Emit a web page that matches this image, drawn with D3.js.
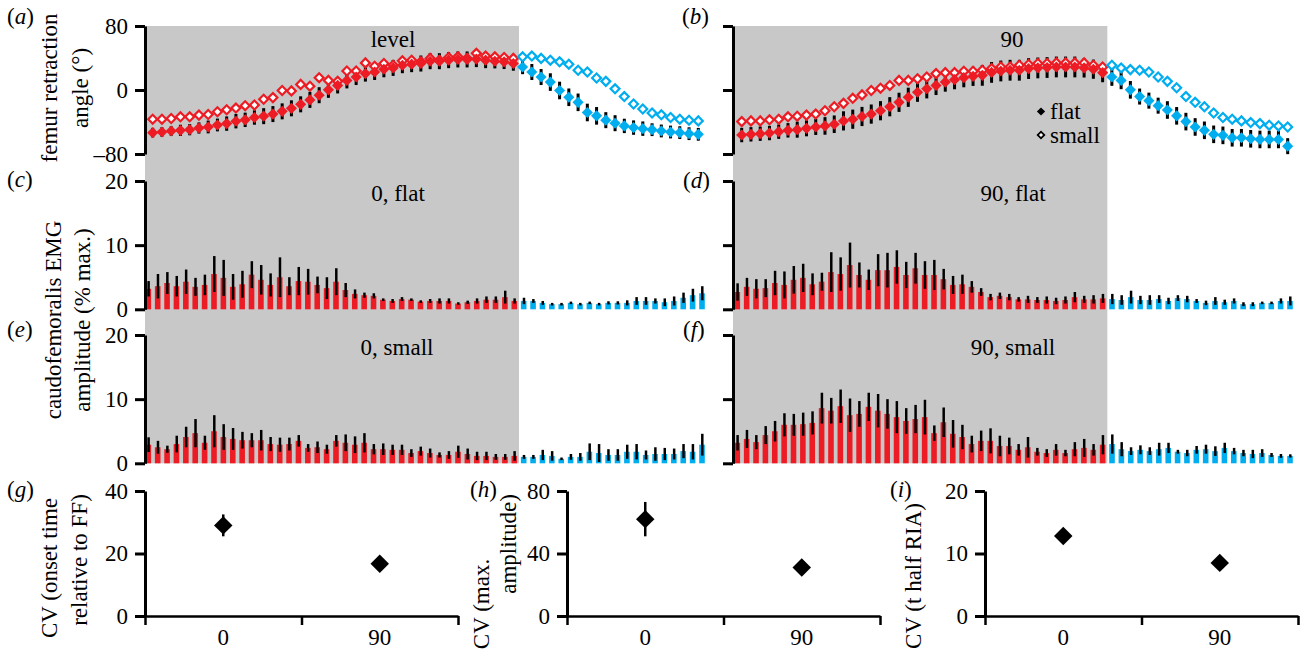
<!DOCTYPE html>
<html>
<head>
<meta charset="utf-8">
<script src="https://cdn.jsdelivr.net/npm/d3@7"></script>
<style>
body { margin: 0; background: #fff; }
svg text { font-family: "Liberation Serif", "Times New Roman", serif; font-size: 23px; fill: #000; }
</style>
</head>
<body>
<svg id="chart" width="1304" height="650"></svg>
<script>
const RED = '#ed1c24', BLUE = '#00aeef', GREY = '#c8c8c8';
const nStance = 40; // first 40 samples stance (red), last 20 swing (blue)

// femur retraction angle, level (a)
const angLevelFlat = [-53.3,-52.5,-51.3,-50.4,-49.6,-47.5,-46.2,-43.7,-42.0,-39.0,-37.3,-34.4,-32.7,-30.1,-26.7,-22.9,-17.9,-12.4,-6.5,0.2,
  5.7,12.0,16.2,20.5,22.5,25.9,27.6,31.0,32.3,33.1,36.0,36.0,37.3,38.2,38.2,38.6,37.3,36.0,35.2,33.1,
  28.8,22.5,16.2,9.9,-0.6,-9.1,-15.4,-28.1,-32.3,-37.7,-41.5,-44.9,-47.0,-48.3,-49.6,-51.2,-52.5,-53.3,-54.6,-55.4];
const angLevelFlatSd = [6,6,6,7,7,7,8,8,9,9,9,9,10,10,10,10,10,10,10,10,
  10,10,10,10,10,10,10,10,10,10,10,10,10,10,10,10,10,9,9,9,
  9,10,10,11,11,11,11,11,11,10,10,9,9,9,8,8,8,8,8,8];
const angLevelSmall = [-36.5,-36.5,-35.6,-33.5,-33.5,-31.4,-30.6,-27.2,-24.7,-22.6,-19.6,-18.8,-11.6,-9.5,-0.6,-1.1,7.0,4.8,15.4,12.0,
  10.8,23.8,23.8,33.9,29.7,33.1,31.0,36.5,37.3,35.2,39.5,37.3,40.7,41.5,39.5,45.8,42.4,41.5,40.7,39.5,
  41.5,42.4,39.5,37.3,35.2,32.3,24.7,22.5,15.0,10.8,1.5,-8.2,-17.5,-23.8,-28.8,-31.0,-34.4,-36.5,-37.7,-38.6];

// femur retraction angle, 90 (b)
const ang90Flat = [-56.3,-55.4,-54.6,-53.8,-52.1,-50.4,-49.6,-47.9,-46.2,-44.9,-42.8,-38.6,-36.5,-33.1,-30.1,-25.9,-20.9,-15.4,-9.1,-2.8,
  1.5,5.7,9.9,12.9,15.4,17.1,18.3,22.0,23.8,24.7,24.7,26.8,27.6,28.1,28.8,28.8,28.8,27.6,26.0,21.7,
  16.2,12.0,0.2,-8.2,-13.3,-19.6,-25.0,-32.3,-39.5,-46.2,-50.4,-55.4,-56.7,-59.7,-59.7,-61.0,-61.8,-61.8,-61.8,-70.2];
const ang90FlatSd = [9,9,9,9,9,9,10,10,10,11,11,12,12,12,12,12,12,12,12,12,
  12,12,12,12,12,12,13,13,13,13,13,13,13,13,13,13,13,12,12,12,
  11,11,11,10,10,10,11,11,11,11,11,11,11,11,11,11,11,11,11,10];
const ang90Small = [-39.5,-38.6,-38.6,-37.3,-36.5,-33.5,-32.7,-31.4,-30.1,-25.9,-20.9,-16.7,-10.4,-6.1,-0.6,2.3,5.7,12.0,12.0,14.1,
  16.2,20.5,21.7,21.7,23.4,23.4,24.7,26.8,28.8,28.8,31.0,31.9,33.1,33.1,33.9,33.9,33.9,33.9,31.0,28.8,
  31.0,27.6,25.5,24.7,22.5,16.2,10.8,2.8,-8.2,-15.4,-20.9,-28.8,-34.4,-36.5,-38.6,-40.7,-42.0,-44.0,-44.9,-46.2];

// caudofemoralis EMG amplitude (% max.), mean and s.d.
const emg0Flat = [3.2,3.6,4.1,3.6,4.3,3.5,3.8,5.5,4.9,3.5,3.9,5.4,4.6,3.8,5.0,3.6,4.4,4.3,3.8,3.3,
  4.3,3.0,2.4,2.2,2.1,1.5,1.3,1.6,1.5,1.2,1.3,1.3,1.3,0.9,1.1,1.3,1.5,1.5,1.9,1.3,
  1.3,1.3,1.0,0.8,0.8,1.0,0.8,1.0,0.8,1.0,1.0,1.0,1.3,1.3,1.3,1.1,1.3,1.8,2.2,2.5];
const emg0FlatSd = [1.2,1.9,1.7,1.6,1.9,1.4,1.6,2.8,2.8,2.0,2.1,2.1,2.3,1.8,3.1,1.4,2.2,2.0,1.3,1.7,
  2.1,1.1,0.7,0.4,0.4,0.2,0.3,0.3,0.2,0.2,0.3,0.4,0.4,0.2,0.25,0.4,0.5,0.5,1.0,0.4,
  0.5,0.3,0.3,0.2,0.2,0.2,0.2,0.2,0.2,0.25,0.25,0.4,0.6,0.6,0.4,0.6,0.7,0.8,1.0,1.1];
const emg90Flat = [2.7,3.5,3.2,3.3,4.1,3.8,4.6,4.9,3.9,4.3,5.8,5.5,6.9,5.35,4.6,6.1,6.1,6.6,5.35,6.4,
  5.35,5.35,4.7,3.8,3.9,3.5,2.7,1.9,2.1,1.9,1.55,1.55,1.45,1.45,1.3,1.45,1.9,1.55,1.55,1.7,
  1.6,1.45,1.9,1.45,1.45,1.6,1.3,1.75,1.6,1.3,1.0,1.3,1.1,1.3,0.8,0.8,1.0,1.0,1.3,1.3];
const emg90FlatSd = [1.35,1.4,1.5,1.4,1.9,2.1,2.15,2.2,1.7,1.4,3.1,2.6,3.5,1.95,1.6,2.5,2.7,2.6,2.05,2.4,
  2.15,2.35,1.6,1.4,1.5,0.9,0.6,0.5,0.5,0.5,0.35,0.55,0.45,0.55,0.5,0.55,0.8,0.55,0.65,0.7,
  0.8,0.75,1.0,0.65,0.75,0.6,0.5,0.45,0.5,0.3,0.35,0.6,0.4,0.4,0.3,0.3,0.2,0.2,0.4,0.7];
const emg0Small = [2.9,2.5,2.2,3.0,4.1,4.7,3.2,5.0,4.1,3.8,3.6,3.6,3.6,3.0,2.9,3.0,3.5,2.4,2.5,2.2,
  3.5,3.2,2.9,3.2,2.2,2.2,2.1,2.1,1.6,1.9,1.6,1.3,1.3,1.8,1.45,1.15,1.15,1.0,1.0,1.15,
  1.0,1.0,1.3,1.15,0.7,1.0,1.0,1.8,1.6,1.3,1.3,1.8,1.8,1.3,1.45,1.45,1.45,1.9,1.8,2.9];
const emg0SmallSd = [1.15,1.0,0.55,1.3,1.6,2.2,1.1,2.5,2.0,1.7,1.3,1.1,1.6,1.1,1.1,1.0,0.9,0.6,0.9,0.7,
  0.9,1.3,1.3,1.5,0.8,0.9,0.8,0.8,0.6,0.7,0.7,0.4,0.6,0.95,0.85,0.65,0.65,0.45,0.45,0.75,
  0.3,0.3,0.8,0.75,0.2,0.45,0.6,1.3,1.4,0.9,0.9,1.1,1.2,0.7,1.05,0.95,0.85,1.1,1.2,1.7];
const emg90Small = [3.2,3.8,3.3,4.4,5.0,6.0,6.0,6.1,6.3,8.6,8.2,8.9,7.5,7.7,8.8,8.2,7.7,7.2,6.6,6.9,
  7.2,4.7,6.4,4.6,4.1,3.0,3.5,3.5,2.7,2.7,2.1,2.5,1.8,1.6,2.1,1.6,2.2,2.4,2.1,2.9,
  3.0,2.2,1.9,2.1,1.9,2.2,2.4,1.8,1.6,2.1,2.2,1.9,2.4,1.9,1.6,1.45,1.6,1.3,1.15,1.15];
const emg90SmallSd = [1.2,1.4,1.1,1.4,1.6,1.8,1.7,1.8,1.8,2.4,2.0,2.6,2.6,2.0,2.2,2.6,2.3,2.5,2.0,2.2,
  2.7,1.2,2.3,2.15,1.9,1.3,1.6,1.95,1.6,1.3,0.9,1.6,0.6,0.6,0.9,0.5,1.1,1.4,0.9,1.5,
  1.5,1.1,0.6,0.7,0.6,1.0,0.8,0.3,0.5,0.6,0.7,0.75,0.8,0.5,0.5,0.65,0.6,0.3,0.3,0.25];

// coefficients of variation (g)-(i)
const cvCategories = ['0', '90'];
const cvOnset = [29, 16.7], cvOnsetErr = [3.5, 0.8];
const cvAmp = [62, 31], cvAmpErr = [11, 1.5];
const cvRia = [12.8, 8.5], cvRiaErr = [0.6, 0.4];

const svg = d3.select('#chart');
const nPts = angLevelFlat.length;

const yAngle = d3.scaleLinear().domain([-80, 80]).range([154, 26]);
const yEmgTop = d3.scaleLinear().domain([0, 20]).range([309.3, 181]);
const yEmgBot = d3.scaleLinear().domain([0, 20]).range([463.3, 335]);
const xAngL = d3.scaleLinear().domain([0, nPts - 1]).range([152.7, 698.3]);
const xAngR = d3.scaleLinear().domain([0, nPts - 1]).range([741.7, 1287.7]);
const xBarL = d3.scaleLinear().domain([0, nPts - 1]).range([148.3, 702]);
const xBarR = d3.scaleLinear().domain([0, nPts - 1]).range([737.3, 1290]);
const axL = 145, axR = 733;

const fmt = d => d < 0 ? '\u2013' + Math.abs(d) : d;
const col = i => i < nStance ? RED : BLUE;

// grey stance background
[[axL, xBarL], [axR, xBarR]].forEach(([x0, xs]) => {
  svg.append('rect')
    .attr('x', x0).attr('y', yAngle(80))
    .attr('width', xs(nStance - 0.5) - x0)
    .attr('height', yEmgBot(0) - yAngle(80))
    .attr('fill', GREY);
});

function yAxis(scale, x, ticks, labels) {
  const ax = svg.append('g').attr('transform', `translate(${x},0)`)
    .call(d3.axisLeft(scale).tickValues(ticks).tickSize(10).tickPadding(7)
      .tickSizeOuter(0).tickFormat(labels ? fmt : ''));
  ax.select('.domain').attr('stroke', '#000').attr('stroke-width', 3);
  ax.selectAll('.tick line').attr('stroke', '#000').attr('stroke-width', 3);
  return ax;
}

function diamond(size) {
  return d3.symbol().type(d3.symbolSquare).size(size)();
}

function anglePanel(xs, flat, sd, small) {
  const g = svg.append('g');
  g.selectAll('.err').data(flat).enter().append('line')
    .attr('x1', (d, i) => xs(i)).attr('x2', (d, i) => xs(i))
    .attr('y1', (d, i) => yAngle(d - sd[i])).attr('y2', (d, i) => yAngle(d + sd[i]))
    .attr('stroke', '#000').attr('stroke-width', 3);
  g.selectAll('.sm').data(small).enter().append('path')
    .attr('d', diamond(40))
    .attr('transform', (d, i) => `translate(${xs(i)},${yAngle(d)}) rotate(45)`)
    .attr('fill', '#fff').attr('stroke', (d, i) => col(i)).attr('stroke-width', 2.2);
  g.selectAll('.fl').data(flat).enter().append('path')
    .attr('d', diamond(62))
    .attr('transform', (d, i) => `translate(${xs(i)},${yAngle(d)}) rotate(45)`)
    .attr('fill', (d, i) => col(i));
}

function emgPanel(xs, ys, vals, sd) {
  const g = svg.append('g');
  g.selectAll('rect').data(vals).enter().append('rect')
    .attr('x', (d, i) => xs(i) - 2.8).attr('width', 5.6)
    .attr('y', d => ys(d)).attr('height', d => ys(0) - ys(d))
    .attr('fill', (d, i) => col(i));
  g.selectAll('line').data(vals).enter().append('line')
    .attr('x1', (d, i) => xs(i) + 0.3).attr('x2', (d, i) => xs(i) + 0.3)
    .attr('y1', (d, i) => ys(Math.max(0, d - sd[i]))).attr('y2', (d, i) => ys(d + sd[i]))
    .attr('stroke', '#000').attr('stroke-width', 2.5);
}

anglePanel(xAngL, angLevelFlat, angLevelFlatSd, angLevelSmall);
anglePanel(xAngR, ang90Flat, ang90FlatSd, ang90Small);
emgPanel(xBarL, yEmgTop, emg0Flat, emg0FlatSd);
emgPanel(xBarR, yEmgTop, emg90Flat, emg90FlatSd);
emgPanel(xBarL, yEmgBot, emg0Small, emg0SmallSd);
emgPanel(xBarR, yEmgBot, emg90Small, emg90SmallSd);

yAxis(yAngle, axL, [-80, 0, 80], true);
yAxis(yAngle, axR, [-80, 0, 80], false);
yAxis(yEmgTop, axL, [0, 10, 20], true);
yAxis(yEmgTop, axR, [0, 10, 20], false);
yAxis(yEmgBot, axL, [0, 10, 20], true);
yAxis(yEmgBot, axR, [0, 10, 20], false);

// panel titles
const titles = [['level', 393, 47], ['90', 1012, 47], ['0, flat', 398, 201], ['90, flat', 1013, 201],
  ['0, small', 397, 355], ['90, small', 1013, 355]];
svg.selectAll('.title').data(titles).enter().append('text')
  .attr('x', d => d[1]).attr('y', d => d[2])
  .attr('text-anchor', 'middle').text(d => d[0]);

// legend
const legend = svg.append('g');
legend.append('path').attr('d', diamond(34)).attr('transform', 'translate(1041,111.5) rotate(45)').attr('fill', '#000');
legend.append('path').attr('d', diamond(22)).attr('transform', 'translate(1041,135) rotate(45)')
  .attr('fill', '#fff').attr('stroke', '#000').attr('stroke-width', 1.8);
legend.append('text').attr('x', 1050).attr('y', 119).text('flat');
legend.append('text').attr('x', 1050).attr('y', 143).text('small');

// panel letters
function letter(l, x, y) {
  const t = svg.append('text').attr('x', x).attr('y', y);
  t.append('tspan').text('(');
  t.append('tspan').style('font-style', 'italic').text(l);
  t.append('tspan').text(')');
}
[['a', 7, 24], ['b', 682, 24], ['c', 7, 187], ['d', 683, 188], ['e', 7, 337], ['f', 683, 337],
  ['g', 7, 497], ['h', 470, 497], ['i', 890, 497]].forEach(d => letter(...d));

// rotated axis titles
function vLabel(lines, x0, dx, centers) {
  lines.forEach((s, k) => {
    svg.append('text').attr('transform', `translate(${x0 + k * dx},${centers[k]}) rotate(-90)`)
      .attr('text-anchor', 'middle').text(s);
  });
}
vLabel(['femur retraction', 'angle (\u00b0)'], 57, 31, [88, 88]);
vLabel(['caudofemoralis EMG', 'amplitude (% max.)'], 61, 29, [320, 320]);

// CV panels
function cvPanel(x0, yMax, vals, errs) {
  const y = d3.scaleLinear().domain([0, yMax]).range([616, 491]);
  const x = d3.scaleLinear().domain([0, 2]).range([x0, x0 + 313]);
  const xb = d3.scaleBand().domain(cvCategories).range([x0, x0 + 313]);
  const xa = svg.append('g').attr('transform', 'translate(0,616)')
    .call(d3.axisBottom(x).tickValues([0, 1, 2]).tickSize(9).tickSizeOuter(0).tickFormat(''));
  xa.select('.domain').attr('stroke-width', 2.5);
  xa.selectAll('.tick line').attr('stroke-width', 2.5);
  svg.selectAll(null).data(cvCategories).enter().append('text')
    .attr('x', d => xb(d) + xb.bandwidth() / 2).attr('y', 645)
    .attr('text-anchor', 'middle').text(d => d);
  yAxis(y, x0, [0, yMax / 2, yMax], true);
  const g = svg.append('g');
  g.selectAll('line').data(vals).enter().append('line')
    .attr('x1', (d, i) => xb(cvCategories[i]) + xb.bandwidth() / 2)
    .attr('x2', (d, i) => xb(cvCategories[i]) + xb.bandwidth() / 2)
    .attr('y1', (d, i) => y(d - errs[i])).attr('y2', (d, i) => y(d + errs[i]))
    .attr('stroke', '#000').attr('stroke-width', 2.5);
  g.selectAll('path').data(vals).enter().append('path')
    .attr('d', diamond(170))
    .attr('transform', (d, i) => `translate(${xb(cvCategories[i]) + xb.bandwidth() / 2},${y(d)}) rotate(45)`)
    .attr('fill', '#000');
}
cvPanel(145, 40, cvOnset, cvOnsetErr);
cvPanel(567, 80, cvAmp, cvAmpErr);
cvPanel(985, 20, cvRia, cvRiaErr);

vLabel(['CV (onset time', 'relative to FF)'], 57, 30, [568, 560]);
vLabel(['CV (max.', 'amplitude)'], 489, 27, [604, 544]);
vLabel(['CV (t half RIA)'], 921, 0, [576]);
</script>
</body>
</html>
